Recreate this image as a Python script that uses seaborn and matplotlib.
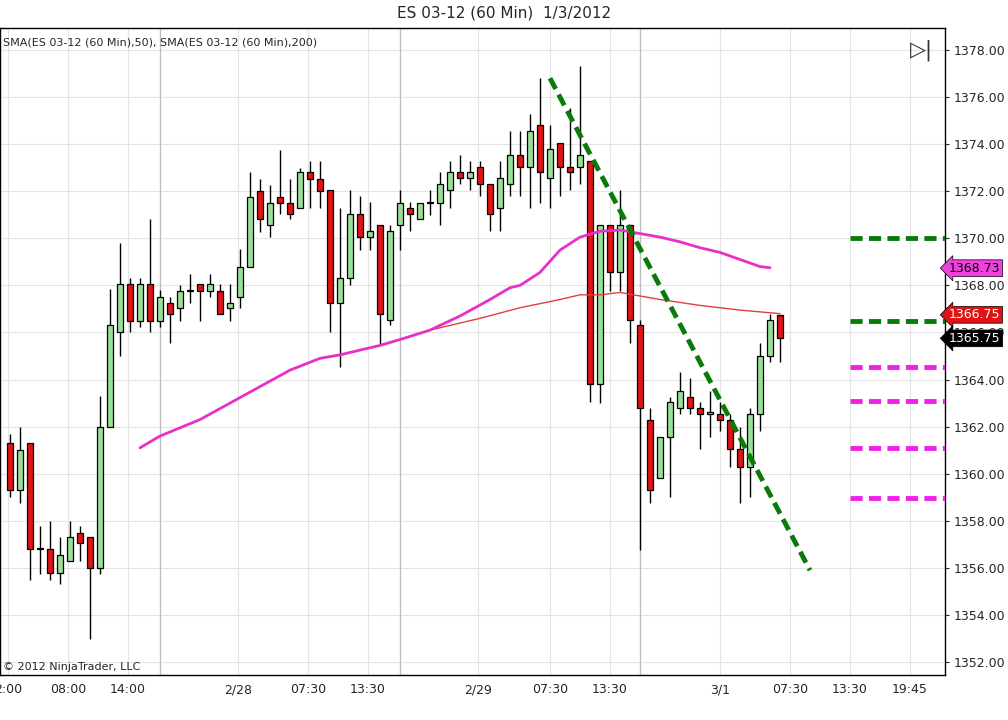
import numpy as np
import pandas as pd
import matplotlib
matplotlib.use("Agg")
import matplotlib.pyplot as plt
import seaborn as sns

# hourly OHLC bars, ES 03-12
opens = [1361.3, 1359.3, 1361.3, 1356.8, 1356.8, 1355.8, 1356.3, 1357.5, 1357.3, 1356.0,
         1362.0, 1366.0, 1368.05, 1366.5, 1368.05, 1366.5, 1367.25, 1367.05, 1367.75, 1368.05,
         1367.75, 1367.75, 1367.05, 1367.5, 1368.8, 1372.0, 1370.55, 1371.75, 1371.5, 1371.3,
         1372.8, 1372.5, 1372.05, 1367.25, 1368.3, 1371.05, 1370.05, 1370.55, 1366.55, 1370.55,
         1371.3, 1370.8, 1371.5, 1371.5, 1372.05, 1372.8, 1372.55, 1373.05, 1372.3, 1371.3,
         1372.3, 1373.55, 1373.05, 1374.8, 1372.55, 1374.05, 1373.05, 1373.05, 1373.3, 1363.8,
         1370.55, 1368.55, 1370.55, 1366.3, 1362.3, 1359.8, 1361.55, 1362.8, 1363.25, 1362.8,
         1362.55, 1362.55, 1362.3, 1361.05, 1360.3, 1362.55, 1365.0, 1366.75]
highs = [1361.7, 1362.0, 1361.3, 1357.8, 1358.0, 1357.3, 1358.0, 1357.8, 1357.3, 1363.3,
         1367.85, 1369.8, 1368.3, 1368.3, 1370.8, 1367.8, 1367.5, 1368.0, 1368.5, 1368.05,
         1368.5, 1368.05, 1368.05, 1369.55, 1372.8, 1372.5, 1372.25, 1373.75, 1372.5, 1373.0,
         1373.3, 1373.3, 1372.05, 1371.3, 1372.05, 1371.8, 1371.55, 1370.55, 1370.55, 1372.05,
         1371.55, 1371.5, 1372.05, 1372.8, 1373.3, 1373.55, 1373.3, 1373.3, 1372.3, 1373.3,
         1374.55, 1374.55, 1375.3, 1376.8, 1374.8, 1374.05, 1375.55, 1377.3, 1373.3, 1370.55,
         1370.55, 1372.05, 1370.55, 1366.55, 1362.8, 1361.55, 1363.25, 1364.3, 1364.05, 1363.05,
         1363.5, 1363.05, 1362.55, 1362.0, 1362.8, 1365.55, 1366.8, 1366.75]
lows = [1359.0, 1358.75, 1355.5, 1355.75, 1355.5, 1355.3, 1356.3, 1356.3, 1353.0, 1355.75,
        1362.0, 1365.0, 1366.0, 1366.25, 1366.0, 1366.25, 1365.55, 1366.5, 1367.25, 1366.5,
        1367.5, 1366.8, 1366.5, 1367.05, 1368.8, 1370.25, 1370.05, 1371.05, 1370.8, 1371.3,
        1371.3, 1371.3, 1366.0, 1364.55, 1368.0, 1369.5, 1369.5, 1365.5, 1366.3, 1369.5,
        1370.3, 1370.8, 1371.0, 1370.55, 1371.3, 1372.3, 1372.05, 1371.8, 1370.3, 1370.3,
        1371.8, 1371.8, 1371.3, 1371.5, 1371.3, 1371.8, 1372.05, 1372.3, 1363.05, 1363.0,
        1367.75, 1367.75, 1365.55, 1356.75, 1358.75, 1359.8, 1359.0, 1362.55, 1362.55, 1361.05,
        1361.55, 1361.8, 1360.3, 1358.75, 1359.0, 1361.8, 1364.75, 1364.75]
closes = [1359.3, 1361.0, 1356.8, 1356.8, 1355.8, 1356.55, 1357.3, 1357.05, 1356.0, 1362.0,
          1366.3, 1368.05, 1366.5, 1368.05, 1366.5, 1367.5, 1366.8, 1367.75, 1367.75, 1367.75,
          1368.05, 1366.8, 1367.25, 1368.8, 1371.75, 1370.8, 1371.5, 1371.5, 1371.05, 1372.8,
          1372.5, 1372.0, 1367.25, 1368.3, 1371.05, 1370.05, 1370.3, 1366.8, 1370.3, 1371.5,
          1371.05, 1371.5, 1371.5, 1372.3, 1372.8, 1372.55, 1372.8, 1372.3, 1371.05, 1372.55,
          1373.55, 1373.05, 1374.55, 1372.8, 1373.8, 1373.05, 1372.8, 1373.55, 1363.8, 1370.55,
          1368.55, 1370.55, 1366.55, 1362.8, 1359.3, 1361.55, 1363.05, 1363.5, 1362.8, 1362.55,
          1362.55, 1362.3, 1361.05, 1360.3, 1362.55, 1365.0, 1366.55, 1365.75]

# moving averages (bar index, value)
sma50_x = [13, 15, 19, 22, 25, 28, 31, 33, 35, 37, 39, 42, 45, 48, 50, 51, 53, 55, 57, 59,
           61, 63, 65, 67, 69, 71, 73, 75, 76]
sma50_y = [1361.1, 1361.6, 1362.3, 1363.0, 1363.7, 1364.4, 1364.9, 1365.05, 1365.25, 1365.45,
           1365.7, 1366.1, 1366.7, 1367.4, 1367.9, 1368.0, 1368.55, 1369.5, 1370.05, 1370.3,
           1370.35, 1370.2, 1370.05, 1369.85, 1369.6, 1369.4, 1369.1, 1368.8, 1368.75]
sma200_x = [42, 47, 51, 55, 57, 59, 61, 63, 65, 69, 73, 77]
sma200_y = [1366.1, 1366.6, 1367.05, 1367.4, 1367.6, 1367.6, 1367.7, 1367.55, 1367.4, 1367.15,
            1366.95, 1366.8]

# drawn objects
trend_x = [54, 80]
trend_y = [1376.8, 1355.9]
green_levels = [1370.0, 1366.5]
magenta_levels = [1364.55, 1363.1, 1361.1, 1358.97]

tick_pos = [-0.2, 5.8, 11.8, 22.8, 29.8, 35.8, 46.8, 54, 60, 71, 78, 84, 90]
tick_labels = ["2:00", "08:00", "14:00", "2/28", "07:30", "13:30", "2/29", "07:30", "13:30",
               "3/1", "07:30", "13:30", "19:45"]
session_lines = [15, 39, 63]

sns.set_style("white")
plt.rcParams['font.family'] = ['DejaVu Sans']

df = pd.DataFrame({"open": opens, "high": highs, "low": lows, "close": closes})
df["x"] = np.arange(len(df))
df["up"] = df["close"] >= df["open"]

fig = plt.figure(figsize=(10.08, 7.2), dpi=100)
ax = fig.add_axes([0, 0.0625, 0.9375, 0.8985])

for yv in np.arange(1352, 1379, 2):
    ax.axhline(yv, color="#e4e4e4", lw=0.8, zorder=0)
for xv in tick_pos:
    ax.axvline(xv, color="#e4e4e4", lw=0.8, zorder=0)
for xv in session_lines:
    ax.axvline(xv, color="#bdbdbd", lw=1.0, zorder=0)

ax.vlines(df["x"], df["low"], df["high"], color="black", lw=1, zorder=2)
body = (df["close"] - df["open"]).abs().clip(lower=0.06)
bottom = df[["open", "close"]].min(axis=1)
colors = np.where(df["up"], "#98e098", "#e01414")
ax.bar(df["x"], body, bottom=bottom, width=0.66, color=colors, edgecolor="black",
       linewidth=0.9, zorder=3)

sns.lineplot(x=sma200_x, y=sma200_y, ax=ax, color="#e0403c", lw=1.0, zorder=4)
sns.lineplot(x=sma50_x, y=sma50_y, ax=ax, color="#e830c8", lw=2.0, zorder=4)

ax.plot(trend_x, trend_y, color="#0a7a0a", lw=3.5, ls=(0, (2.5, 1.3)), zorder=5)
for lv in green_levels:
    ax.plot([84, 93.5], [lv, lv], color="#0a7a0a", lw=3.5, ls=(0, (2.5, 1.3)), zorder=5)
for lv in magenta_levels:
    ax.plot([84, 93.5], [lv, lv], color="#f020e8", lw=3.5, ls=(0, (2.5, 1.3)), zorder=5)

ax.set_xlim(-1, 93.5)
ax.set_ylim(1351.45, 1378.93)
ax.set_xticks(tick_pos)
ax.set_xticklabels(tick_labels, fontsize=9)
ax.yaxis.tick_right()
ax.set_yticks(np.arange(1352, 1379, 2))
ax.set_yticklabels([f"{v:.2f}" for v in np.arange(1352, 1379, 2)], fontsize=9)
ax.tick_params(axis="both", length=3, direction="out", pad=3)
for s in ax.spines.values():
    s.set_color("black")
    s.set_linewidth(1)

# price markers on right axis
for val, fc, tc in [(1368.73, "#f040e0", "black"), (1366.75, "#e01414", "white"),
                    (1365.75, "black", "white")]:
    ax.annotate(f"{val:.2f}", xy=(1.0, val), xycoords=("axes fraction", "data"),
                xytext=(3, 0), textcoords="offset points", va="center", ha="left",
                fontsize=9, color=tc,
                bbox=dict(boxstyle="larrow,pad=0.15", fc=fc, ec="black", lw=0.5))

fig.text(0.5, 0.982, "ES 03-12 (60 Min)  1/3/2012", ha="center", va="center", fontsize=11)
ax.text(0.003, 0.985, "SMA(ES 03-12 (60 Min),50), SMA(ES 03-12 (60 Min),200)",
        transform=ax.transAxes, ha="left", va="top", fontsize=8)
ax.text(0.003, 0.005, "\u00a9 2012 NinjaTrader, LLC", transform=ax.transAxes,
        ha="left", va="bottom", fontsize=8)
ax.text(0.987, 0.965, "\u25b7|", transform=ax.transAxes, ha="right", va="center",
        fontsize=15, color="#333333")

fig.savefig("out.png", dpi=100)
